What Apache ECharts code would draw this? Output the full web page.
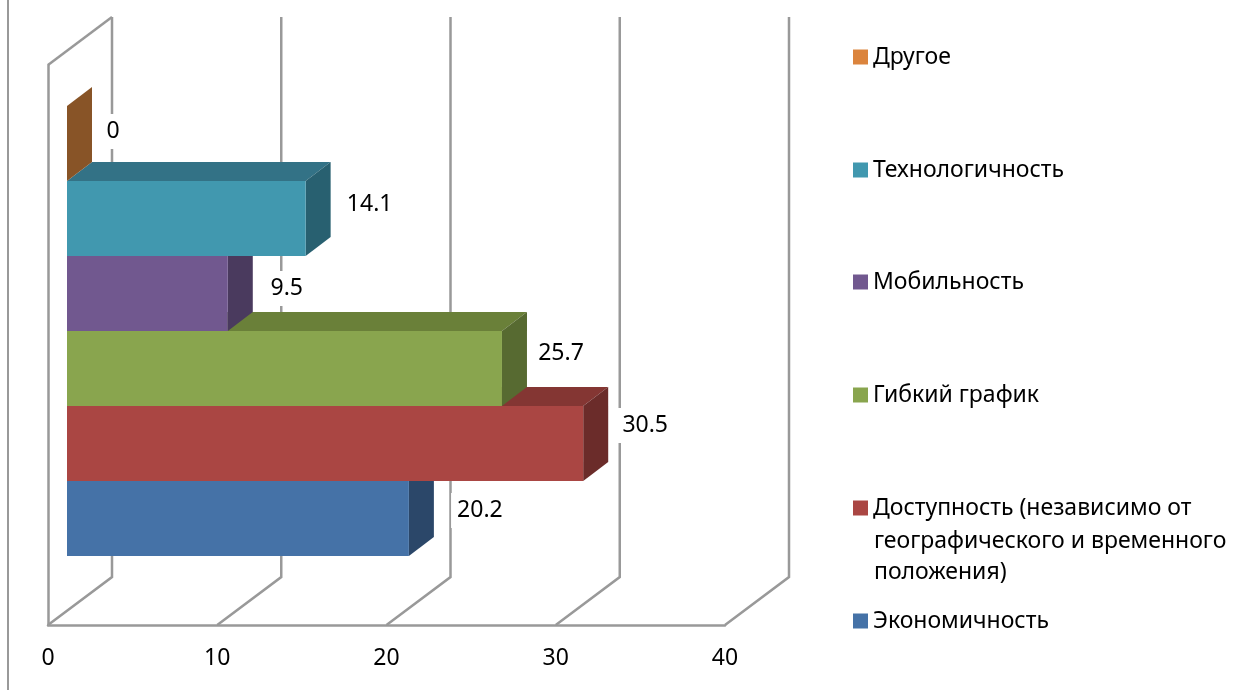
<!DOCTYPE html>
<html>
<head>
<meta charset="utf-8">
<style>
  html, body { margin: 0; padding: 0; background: #fff; }
  #chart { width: 1245px; height: 690px; }
</style>
<script src="https://cdn.jsdelivr.net/npm/echarts@6/dist/echarts.min.js"></script>
</head>
<body>
<div id="chart"></div>
<script>
  const categories = [
    'Экономичность',
    'Доступность (независимо от\nгеографического и временного\nположения)',
    'Гибкий график',
    'Мобильность',
    'Технологичность',
    'Другое'
  ];
  const values = [20.2, 30.5, 25.7, 9.5, 14.1, 0];
  const xTicks = [0, 10, 20, 30, 40];

  const colors = ['#4572A7', '#AA4643', '#89A54E', '#71588F', '#4198AF', '#DB843D'];
  const topColors = ['#365985', '#843633', '#6A8039', '#57436F', '#337286', '#A9652E'];
  const sideColors = ['#2B4769', '#6B2C2A', '#576A31', '#4A3A5E', '#286070', '#885427'];
  const labelNudge = [[46, -8], [37, -18], [34, -15], [34, -5], [39, -14], [21, -12]];
  const legendCenters = [620, 507, 394, 281, 169, 56];

  const font = '"Noto Sans", sans-serif';
  const fontSize = 23;
  const wallColor = '#999999';
  const wallDepth = [64, -48];
  const barDepth = [25, -19];

  function poly(points, fill) {
    return {
      type: 'polygon',
      shape: {points: points},
      style: {fill: fill}
    };
  }

  function renderBar(i) {
    return function (params, api) {
      const end = api.coord([api.value(0), api.value(1)]);
      const start = api.coord([0, api.value(1)]);
      const h = api.size([0, 1])[1];
      const l = start[0], r = end[0], t = end[1] - h / 2, b = end[1] + h / 2;
      const dx = barDepth[0], dy = barDepth[1];
      const faces = [poly([[r, t], [r + dx, t + dy], [r + dx, b + dy], [r, b]], sideColors[i])];
      // a zero bar has only its end cap
      if (r > l) {
        faces.unshift(poly([[l, t], [l + dx, t + dy], [r + dx, t + dy], [r, t]], topColors[i]));
        faces.push(poly([[l, t], [r, t], [r, b], [l, b]], colors[i]));
      }
      faces.push({
        type: 'text',
        style: {
          text: String(api.value(0)),
          x: r + dx + labelNudge[i][0],
          y: end[1] + labelNudge[i][1],
          align: 'center',
          verticalAlign: 'middle',
          fill: '#000',
          font: fontSize + 'px ' + font,
          backgroundColor: '#fff',
          padding: [6, 6]
        }
      });
      return {type: 'group', children: faces};
    };
  }

  function renderWall(params, api) {
    const floor = api.coord([api.value(0), 0]);
    const top = api.coord([0, 1]);
    const bx = floor[0] + wallDepth[0];
    const by = floor[1] + wallDepth[1];
    const children = [{
      type: 'polyline',
      shape: {points: [floor, [bx, by], [bx, top[1] + wallDepth[1]]]},
      style: {stroke: wallColor, lineWidth: 2.5, fill: null}
    }];
    if (api.value(0) === 0) {
      children.push({
        type: 'line',
        shape: {x1: top[0], y1: top[1], x2: top[0] + wallDepth[0], y2: top[1] + wallDepth[1]},
        style: {stroke: wallColor, lineWidth: 2.5}
      });
    }
    return {type: 'group', children: children};
  }

  const barSeries = categories.map((name, i) => ({
    name: name,
    type: 'custom',
    xAxisIndex: 1,
    yAxisIndex: 1,
    z: 5,
    itemStyle: {color: colors[i]},
    renderItem: renderBar(i),
    data: [[values[i], i]],
    encode: {x: 0, y: 1},
    clip: false
  }));

  const legends = categories.map((name, i) => ({
    data: [name],
    left: 853,
    top: legendCenters[i] - 12,
    padding: 0,
    orient: 'vertical',
    icon: 'rect',
    itemWidth: 15,
    itemHeight: 15,
    selectedMode: false,
    formatter: n => n.split('\n')[0],
    textStyle: {fontSize: fontSize, fontFamily: font, color: '#000', lineHeight: 26}
  }));

  const extraLegendLines = categories[1].split('\n').slice(1);
  const extraLegendY = [540, 571];

  const chart = echarts.init(document.getElementById('chart'));
  chart.setOption({
    animation: false,
    backgroundColor: '#fff',
    textStyle: {fontFamily: font},
    legend: legends,
    grid: [
      {left: 48, top: 65, width: 677, height: 560},
      {left: 67, top: 106, width: 677, height: 450}
    ],
    xAxis: [
      {
        type: 'value', gridIndex: 0, min: 0, max: 40, interval: 10,
        axisLine: {show: true, lineStyle: {color: wallColor, width: 2.5}},
        axisTick: {show: false},
        splitLine: {show: false},
        axisLabel: {color: '#000', fontSize: fontSize, fontFamily: font, margin: 22}
      },
      {type: 'value', gridIndex: 1, min: 0, max: 40, show: false}
    ],
    yAxis: [
      {
        type: 'value', gridIndex: 0, min: 0, max: 1,
        axisLine: {show: true, lineStyle: {color: wallColor, width: 2.5}},
        axisTick: {show: false},
        axisLabel: {show: false},
        splitLine: {show: false}
      },
      {type: 'category', gridIndex: 1, data: categories, show: false}
    ],
    graphic: [
      {
        type: 'line',
        shape: {x1: 8, y1: 0, x2: 8, y2: 690},
        style: {stroke: wallColor, lineWidth: 2}
      }
    ].concat(extraLegendLines.map((line, i) => ({
      type: 'text',
      left: 874,
      top: extraLegendY[i] - 10,
      style: {text: line, fill: '#000', font: fontSize + 'px ' + font}
    }))),
    series: [{
      name: 'walls',
      type: 'custom',
      xAxisIndex: 0,
      yAxisIndex: 0,
      z: 1,
      renderItem: renderWall,
      data: xTicks.map(t => [t]),
      encode: {x: 0},
      clip: false,
      silent: true
    }].concat(barSeries)
  });
</script>
</body>
</html>
